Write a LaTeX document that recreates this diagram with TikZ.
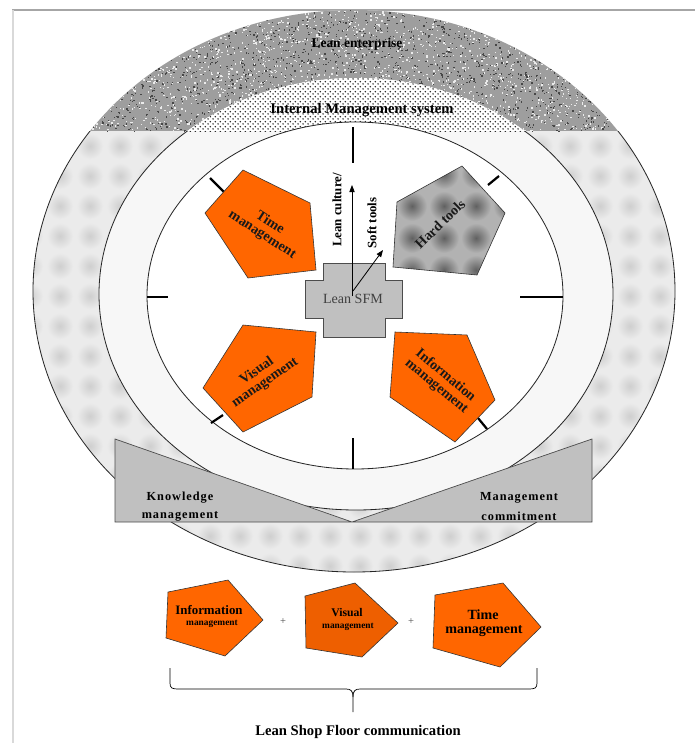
\documentclass[tikz,border=0pt]{standalone}
\usepackage{fontspec}
\setmainfont{Liberation Serif}
\newfontfamily\widefont[LetterSpace=8]{Liberation Serif}
\usetikzlibrary{arrows.meta,patterns}
\definecolor{lsorange}{HTML}{FF6600}
\definecolor{lsorangedk}{HTML}{EE5F00}
\definecolor{lsgrey}{HTML}{C0C0C0}
% diagonal lattice of dots for the management-system band
\pgfdeclarepatternformonly{diamonddots}{\pgfpointorigin}{\pgfpoint{4.4pt}{4.4pt}}{\pgfpoint{4.4pt}{4.4pt}}{%
  \pgfpathcircle{\pgfpoint{1.1pt}{1.1pt}}{0.75pt}%
  \pgfpathcircle{\pgfpoint{3.3pt}{3.3pt}}{0.75pt}%
  \pgfusepath{fill}}
\tikzset{
  ring/.style={draw=black!85, line width=0.7pt},
  tick/.style={line width=1.9pt, black},
  petal/.style={fill=lsorange, draw=black!80, line width=0.5pt},
  petaltext/.style={font=\bfseries\fontsize{12}{12}\selectfont, align=center, inner sep=0pt, text=black!90},
  hubarrow/.style={-{Triangle[length=6pt,width=4.5pt]}, line width=0.7pt},
  plate/.style={fill=lsgrey, draw=black!70, line width=0.6pt},
  platetext/.style={font=\widefont\bfseries\fontsize{10.5}{10.5}\selectfont, inner sep=0pt},
}
\begin{document}
\begin{tikzpicture}[x=0.3mm,y=-0.3mm]
\useasboundingbox (0,0) rectangle (695,743);
\fill[white] (0,0) rectangle (695,743);
% page frame
\draw[black!35, line width=1.4pt] (12,10) -- (695,10);
\draw[black!15, line width=1.4pt] (13,10) -- (13,743);

% outer ring: light grey with soft spots
\begin{scope}[even odd rule]
  \clip (354,291) ellipse (321 and 281) (356,294) ellipse (257 and 216);
  \fill[black!8] (0,0) rectangle (695,743);
  \foreach \gx in {30,60,...,690}{
    \foreach \gy in {146,176,...,600}{
      \shade[inner color=black!19, outer color=black!8] (\gx,\gy) circle (13);
    }
  }
\end{scope}

% outer cap: noisy texture
\begin{scope}
  \clip (0,0) rectangle (695,131);
  \begin{scope}[even odd rule]
  \clip (354,291) ellipse (321 and 281) (356,294) ellipse (257 and 216);
  \fill[black!38] (0,0) rectangle (695,131);
  \pgfmathsetseed{11}
  \foreach \i in {1,...,2600}{
    \pgfmathsetmacro{\xx}{30+650*rnd}
    \pgfmathsetmacro{\yy}{6+128*rnd}
    \fill[black!72] (\xx,\yy) rectangle ++(1.3,1.3);
  }
  \foreach \i in {1,...,2600}{
    \pgfmathsetmacro{\xx}{30+650*rnd}
    \pgfmathsetmacro{\yy}{6+128*rnd}
    \fill[black!8] (\xx,\yy) rectangle ++(1.4,1.4);
  }
  \end{scope}
\end{scope}

% middle ring
\begin{scope}[even odd rule]
  \clip (356,294) ellipse (257 and 216) (355,295.5) ellipse (208 and 173.5);
  \fill[black!3] (0,0) rectangle (695,743);
\end{scope}
% middle cap: diamond dot texture
\begin{scope}
  \clip (0,0) rectangle (695,131);
  \begin{scope}[even odd rule]
  \clip (356,294) ellipse (257 and 216) (355,295.5) ellipse (208 and 173.5);
  \fill[white] (0,0) rectangle (695,131);
  \fill[pattern=diamonddots, pattern color=black!90] (0,0) rectangle (695,131);
  \end{scope}
\end{scope}

% inner field
\fill[white] (355,295.5) ellipse (208 and 173.5);

% ring outlines
\begin{scope}
  \clip (0,131) rectangle (695,743);
  \draw[ring] (354,291) ellipse (321 and 281);
  \draw[ring] (356,294) ellipse (257 and 216);
\end{scope}
\draw[ring] (355,295.5) ellipse (208 and 173.5);

% layer labels
\node[font=\bfseries\fontsize{11.5}{11.5}\selectfont, text=black] (ent) at (357,44) {Lean enterprise};
\node[font=\bfseries\fontsize{12.5}{12.5}\selectfont, text=black] (ims) at (362,110) {Internal Management system};

% ticks on the inner ellipse
\coordinate (t1a) at (353,127); \coordinate (t1b) at (353,163);
\coordinate (t2a) at (353,438); \coordinate (t2b) at (353,469);
\coordinate (t3a) at (147,297); \coordinate (t3b) at (168,297);
\coordinate (t4a) at (520,297); \coordinate (t4b) at (563,297);
\coordinate (t5a) at (210,178); \coordinate (t5b) at (225,193);
\coordinate (t6a) at (488,185); \coordinate (t6b) at (499,176);
\coordinate (t7a) at (211,423); \coordinate (t7b) at (223,415);
\coordinate (t8a) at (478,418); \coordinate (t8b) at (487,429);
\foreach \k in {1,...,8}{ \draw[tick] (t\k a) -- (t\k b); }

% petals
\draw[petal] (243,170) -- (310,203) -- (316,270) -- (248,278) -- (205,213) -- cycle;
\draw[petal] (243,325) -- (316,332) -- (312,397) -- (243,432) -- (203,388) -- cycle;
\draw[petal] (395,332) -- (467,335) -- (495,400) -- (455,442) -- (390,397) -- cycle;
% hard tools petal: grey with soft dark spots
\begin{scope}
  \clip (397,202) -- (462,166) -- (505,213) -- (477,275) -- (393,267) -- cycle;
  \fill[black!30] (380,160) rectangle (510,280);
  \foreach \gx in {380,412,...,512}{
    \foreach \gy in {174,206,...,290}{
      \shade[inner color=black!62, outer color=black!30] (\gx,\gy) circle (15);
    }
  }
\end{scope}
\draw[draw=black!80, line width=0.5pt] (397,202) -- (462,166) -- (505,213) -- (477,275) -- (393,267) -- cycle;

\node[petaltext, rotate=-33] (time) at (266,229) {Time\\management};
\node[petaltext, rotate=44] (hard) at (440,224) {Hard tools};
\node[petaltext, rotate=35] (vis) at (261,377) {Visual\\management};
\node[petaltext, rotate=-40] (info) at (441,381) {Information\\management};

% hub
\draw[plate] (323,263) -- (385,263) -- (385,280) -- (402,280) -- (402,318) -- (385,318)
  -- (385,337) -- (323,337) -- (323,318) -- (305,318) -- (305,280) -- (323,280) -- cycle;
\node[font=\fontsize{12}{12}\selectfont, text=black!75] (sfm) at (353,299) {Lean SFM};
\coordinate (hubA) at (352,296);
\coordinate (hubB) at (353,291);
\coordinate (cultTip) at (352,185);
\coordinate (softTip) at (383,250);
\draw[hubarrow] (hubA) -- (cultTip);
\draw[hubarrow] (hubB) -- (softTip);
\node[font=\bfseries\fontsize{11}{11}\selectfont, rotate=90] (cult) at (337,210) {Lean culture/};
\node[font=\bfseries\fontsize{11}{11}\selectfont, rotate=90] (soft) at (372,223) {Soft tools};

% supporting plate
\draw[plate] (115,439) -- (352,522) -- (592,439) -- (592,522) -- (115,522) -- cycle;
\node[platetext] (know1) at (180,498) {Knowledge};
\node[platetext] (know2) at (180,516) {management};
\node[platetext] (commit1) at (519,498) {Management};
\node[platetext] (commit2) at (519,516) {commitment};

% bottom row
\draw[petal] (168,592) -- (228,580) -- (263,620) -- (225,656) -- (166,638) -- cycle;
\draw[petal, fill=lsorangedk] (305,596) -- (355,583) -- (398,623) -- (362,657) -- (306,648) -- cycle;
\draw[petal] (435,595) -- (503,583) -- (541,627) -- (500,667) -- (433,648) -- cycle;
\node[font=\bfseries\fontsize{11}{11}\selectfont] (bi1) at (209,610) {Information};
\node[font=\bfseries\fontsize{8}{8}\selectfont] (bi2) at (212,624) {management};
\node[font=\bfseries\fontsize{10}{10}\selectfont] (bv1) at (347,613) {Visual};
\node[font=\bfseries\fontsize{8}{8}\selectfont] (bv2) at (348,627) {management};
\node[font=\bfseries\fontsize{12}{12}\selectfont] (bt1) at (483,615) {Time};
\node[font=\bfseries\fontsize{12}{12}\selectfont] (bt2) at (484,631) {management};
\node[font=\fontsize{9}{9}\selectfont, text=black!70] (plus1) at (283,622) {+};
\node[font=\fontsize{9}{9}\selectfont, text=black!70] (plus2) at (411,622) {+};

% brace
\coordinate (brL) at (170,668);
\coordinate (brR) at (537,668);
\coordinate (brTip) at (353,712);
\draw[line width=0.6pt] (brL) -- (170,683) .. controls (170,688) and (172,689) .. (178,689)
  -- (346,689) .. controls (351,689) and (353,691) .. (353,697) -- (brTip);
\draw[line width=0.6pt] (brR) -- (537,683) .. controls (537,688) and (535,689) .. (529,689)
  -- (360,689) .. controls (355,689) and (353,691) .. (353,697);
\node[font=\bfseries\fontsize{12.5}{12.5}\selectfont] (lsfc) at (358,732) {Lean Shop Floor communication};
\end{tikzpicture}
\end{document}
